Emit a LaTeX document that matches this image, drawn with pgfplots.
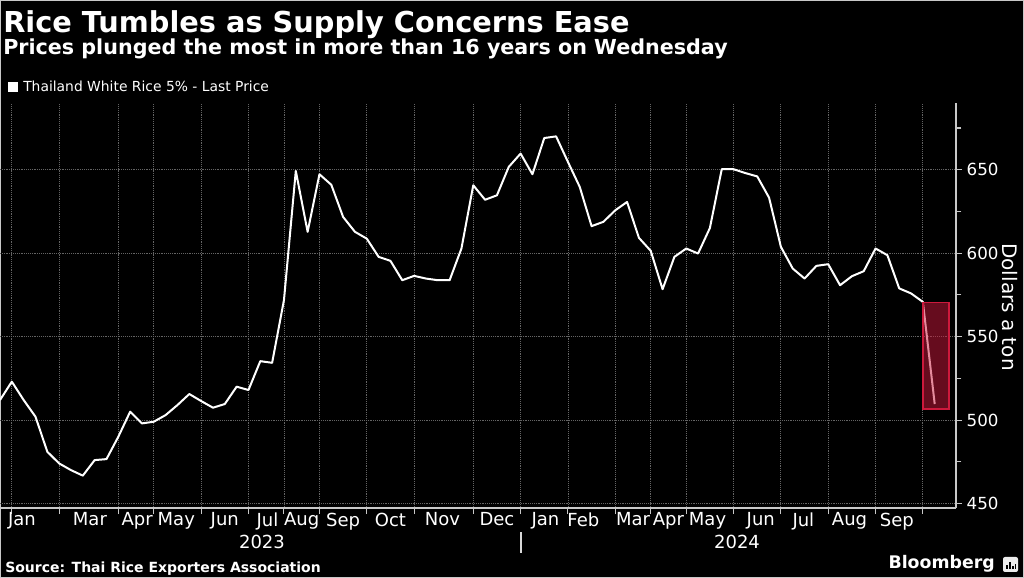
\documentclass[border=0pt]{standalone}
\usepackage{pgfplots}
\pgfplotsset{compat=1.18}
\usepackage{fontspec}
\setmainfont{DejaVu Sans}
\definecolor{gridgray}{RGB}{100,100,100}
\definecolor{axgray}{RGB}{200,200,200}
\definecolor{boxred}{RGB}{205,25,60}

\begin{document}
\begin{tikzpicture}[x=0.75pt,y=0.75pt]
\fill[black] (0,0) rectangle (1024,578);
\useasboundingbox (0,0) rectangle (1024,578);
\draw[axgray, line width=1pt] (0.7,0.7) rectangle (1023.3,577.3);

% titles and legend
\node[anchor=base west, inner sep=0, text=white, font=\fontsize{21.6}{24}\selectfont\bfseries] at (3,545) {Rice Tumbles as Supply Concerns Ease};
\node[anchor=base west, inner sep=0, text=white, font=\fontsize{15.5}{17}\selectfont\bfseries] at (3,523) {Prices plunged the most in more than 16 years on Wednesday};
\fill[white] (8,486) rectangle (18,496);
\node[anchor=base west, inner sep=0, text=white, font=\fontsize{10.4}{12}\selectfont] at (23,486) {Thailand White Rice 5\% - Last Price};

\begin{axis}[
  at={(0pt,52.5pt)}, anchor=south west,
  width=717pt, height=303.75pt, scale only axis,
  xmin=-1, xmax=79.8, ymin=447.3, ymax=690,
  axis x line*=bottom, axis y line*=right,
  axis line style={-},
  x axis line style={axgray, line width=0.8pt},
  y axis line style={axgray, line width=0.8pt},
  tick align=outside,
  tick style={axgray, line width=0.8pt},
  major tick length=4.5pt, minor tick length=4pt,
  xmajorgrids, ymajorgrids,
  grid style={gridgray, densely dotted, line width=0.6pt},
  xtick={0,4,9,12,16,20,23,26,30,34,39,43,47,51,54,57,61,65,69,73,77},
  xticklabels={},
  extra x ticks={0.85,6.6,10.6,13.9,18,21.6,24.5,28,32,36.4,41,45.1,48.3,52.5,55.5,58.8,63.3,66.9,70.8,74.8},
  extra x tick labels={Jan,Mar,Apr,May,Jun,Jul,Aug,Sep,Oct,Nov,Dec,Jan,Feb,Mar,Apr,May,Jun,Jul,Aug,Sep},
  extra x tick style={grid=none, major tick length=0pt},
  ytick={450,500,550,600,650},
  minor ytick={475,525,575,625,675},
  ytick pos=right,
  xticklabel style={text=white, font=\fontsize{13.5}{15}\selectfont},
  yticklabel style={text=white, font=\fontsize{12.5}{14}\selectfont},
  /pgf/number format/assume math mode=true,
]
\addplot[white, line width=1.5pt, line join=round] coordinates {
  (-1,512) (0,523) (1,512) (2,502) (3,481) (4,474) (5,470) (6,466.7)
  (7,476) (8,476.6) (9,490) (10,505) (11,498) (12,499) (13,503) (14,509)
  (15,515.6) (16,511.4) (17,507.4) (18,509.6) (19,520) (20,518) (21,535.3)
  (22,534.3) (23,571.9) (24,649.3) (25,612.8) (26,647.3) (27,641) (28,621.7)
  (29,612.8) (30,608.7) (31,597.8) (32,595.4) (33,583.8) (34,586.4)
  (35,584.8) (36,583.8) (37,583.8) (38,602.8) (39,640.7) (40,632) (41,634.7)
  (42,651.7) (43,659.7) (44,647.3) (45,669) (46,670) (47,654.7) (48,639.7)
  (49,616.2) (50,618.8) (51,625.7) (52,630.7) (53,609.2) (54,601.4)
  (55,578.4) (56,597.8) (57,602.8) (58,599.8) (59,615.1) (60,650.3)
  (61,650.3) (62,648) (63,646) (64,633.3) (65,603.8) (66,590.8) (67,584.8)
  (68,592.4) (69,593.4) (70,580.8) (71,586.2) (72,589.2) (73,602.8)
  (74,598.8) (75,578.9) (76,575.9) (77,570.8) (78,509.6)
};
\draw[boxred, line width=1.2pt, fill=boxred, fill opacity=0.5]
  (axis cs:77,506.5) rectangle (axis cs:79.2,570.5);
\end{axis}

% axis title, years, source
\node[rotate=-90, text=white, font=\fontsize{15}{17}\selectfont] at (1010,271) {Dollars a ton};
\node[text=white, font=\fontsize{13.5}{15}\selectfont] at (262,36) {2023};
\node[text=white, font=\fontsize{13.5}{15}\selectfont] at (737,36) {2024};
\draw[axgray!70, line width=0.8pt] (521,25) -- (521,46);
\node[anchor=base west, inner sep=0, text=white, font=\fontsize{10.5}{12}\selectfont\bfseries] at (5,6) {Source: Thai Rice Exporters Association};
\node[anchor=base east, inner sep=0, text=white, font=\fontsize{13}{15}\selectfont\bfseries] at (995,9) {Bloomberg};
\fill[white!85!gray, rounded corners=1.5pt] (1003,6) rectangle (1018,21);
\fill[black] (1006,9) rectangle (1007.5,13);
\fill[black] (1009,9) rectangle (1010.5,16);
\fill[black] (1012,9) rectangle (1013.5,12);
\fill[black] (1015,9) rectangle (1016.2,14);
\end{tikzpicture}
\end{document}
